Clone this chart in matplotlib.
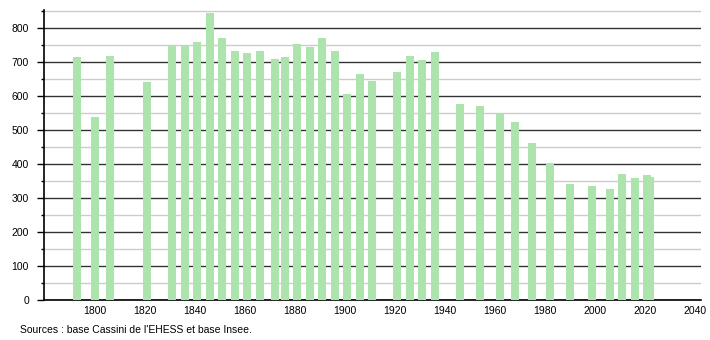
import matplotlib.pyplot as plt
from matplotlib.ticker import MultipleLocator

years = [1793, 1800, 1806, 1821, 1831, 1836, 1841, 1846, 1851, 1856,
         1861, 1866, 1872, 1876, 1881, 1886, 1891, 1896, 1901, 1906,
         1911, 1921, 1926, 1931, 1936, 1946, 1954, 1962, 1968, 1975,
         1982, 1990, 1999, 2006, 2011, 2016, 2021, 2022]
population = [715, 538, 720, 641, 750, 749, 760, 844, 771, 733,
              727, 732, 709, 715, 755, 745, 773, 732, 606, 665,
              644, 671, 720, 706, 729, 578, 570, 549, 523, 461,
              403, 341, 335, 326, 370, 359, 367, 362]
x_ticks = [1800, 1820, 1840, 1860, 1880, 1900, 1920, 1940, 1960, 1980, 2000, 2020, 2040]
source = "Sources : base Cassini de l'EHESS et base Insee."

plt.rcParams['font.family'] = ['Liberation Sans', 'DejaVu Sans']

fig = plt.figure(figsize=(7.1, 3.4), dpi=100)
ax = fig.add_axes([0.0624, 0.1176, 0.9249, 0.853])

ax.bar(years, population, width=3.2, color='#ade3ad', zorder=3)

ax.set_xlim(1779.8, 2042.5)
ax.set_ylim(0, 854)

ax.yaxis.set_major_locator(MultipleLocator(100))
ax.yaxis.set_minor_locator(MultipleLocator(50))
ax.grid(axis='y', which='major', color='#333333', linewidth=1.0, zorder=1)
ax.grid(axis='y', which='minor', color='#cccccc', linewidth=1.0, zorder=1)

ax.set_xticks(x_ticks)
ax.set_xticklabels([str(t) for t in x_ticks])
ax.tick_params(axis='x', length=0, pad=4, labelsize=7.5)
ax.tick_params(axis='y', which='major', length=5, width=1, pad=6, labelsize=7.5)
ax.tick_params(axis='y', which='minor', length=2.5, width=1)

for side in ['top', 'right']:
    ax.spines[side].set_visible(False)
for side in ['left', 'bottom']:
    ax.spines[side].set_color('black')
    ax.spines[side].set_linewidth(1.2)

fig.text(20 / 710, 1 - 330 / 340, source, fontsize=7.5, va='center', ha='left')

fig.savefig('out.png', dpi=100)
